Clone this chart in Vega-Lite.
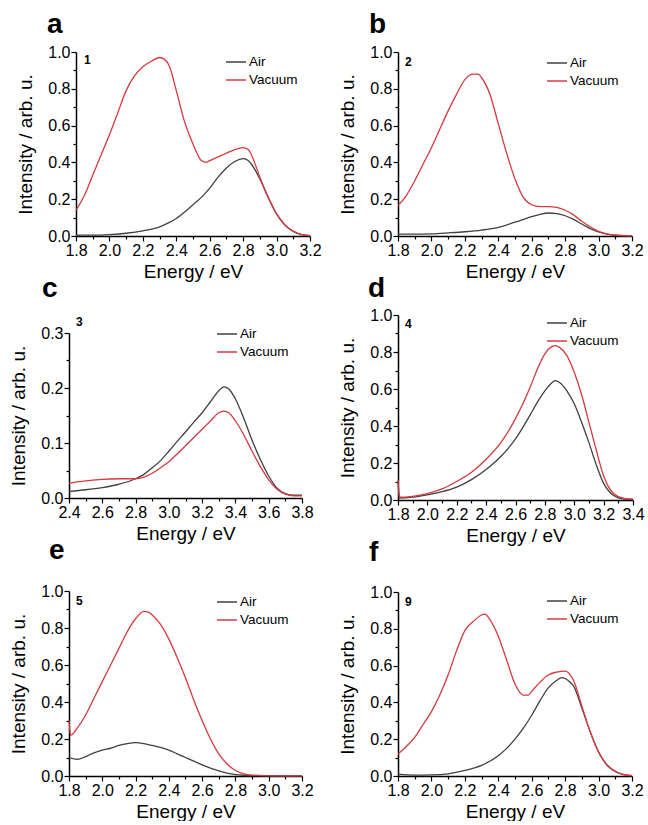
{
"$schema": "https://vega.github.io/schema/vega-lite/v6.json",
"padding": {"left": 9, "top": 11, "right": 5, "bottom": 0},
"config": {
  "font": "Liberation Sans",
  "view": {"stroke": null},
  "axis": {"grid": false, "domainColor": "#000", "domainWidth": 1.5, "tickColor": "#000", "tickWidth": 1.2, "labelFont": "Liberation Sans", "labelFontSize": 16, "labelColor": "#000", "labelPadding": 1, "labelOverlap": false, "labelFlush": false, "labelBound": false, "titleFont": "Liberation Sans", "titleFontSize": 19, "titleFontWeight": "normal", "titleColor": "#000"},
  "axisX": {"titlePadding": 4},
  "axisY": {"titlePadding": 12},
  "legend": {"title": null, "orient": "none", "symbolType": "stroke", "symbolSize": 400, "symbolStrokeWidth": 1.5, "labelFont": "Liberation Sans", "labelFontSize": 13.5, "labelColor": "#000", "labelOffset": 2, "rowPadding": -8, "padding": 0},
  "title": {"font": "Liberation Sans", "fontSize": 28, "fontWeight": "bold", "color": "#000", "anchor": "start", "frame": "group", "baseline": "alphabetic"}
},
"datasets": {
"nums": [
 {"p":"a","n":"1","e":1.8,"i":1.0},
 {"p":"b","n":"2","e":1.8,"i":1.0},
 {"p":"c","n":"3","e":2.4,"i":0.3},
 {"p":"d","n":"4","e":1.8,"i":1.0},
 {"p":"e","n":"5","e":1.8,"i":1.0},
 {"p":"f","n":"9","e":1.8,"i":1.0}
],
"spectra": [
{"p":"a","s":"Air","e":1.8,"i":0.005},{"p":"a","s":"Air","e":1.9,"i":0.005},{"p":"a","s":"Air","e":2.0,"i":0.008},{"p":"a","s":"Air","e":2.1,"i":0.015},{"p":"a","s":"Air","e":2.2,"i":0.028},{"p":"a","s":"Air","e":2.3,"i":0.05},{"p":"a","s":"Air","e":2.35,"i":0.07},{"p":"a","s":"Air","e":2.4,"i":0.095},{"p":"a","s":"Air","e":2.45,"i":0.13},{"p":"a","s":"Air","e":2.5,"i":0.17},{"p":"a","s":"Air","e":2.55,"i":0.21},{"p":"a","s":"Air","e":2.6,"i":0.26},{"p":"a","s":"Air","e":2.65,"i":0.32},{"p":"a","s":"Air","e":2.7,"i":0.37},{"p":"a","s":"Air","e":2.75,"i":0.405},{"p":"a","s":"Air","e":2.8,"i":0.42},{"p":"a","s":"Air","e":2.83,"i":0.41},{"p":"a","s":"Air","e":2.85,"i":0.39},{"p":"a","s":"Air","e":2.9,"i":0.31},{"p":"a","s":"Air","e":2.95,"i":0.21},{"p":"a","s":"Air","e":3.0,"i":0.12},{"p":"a","s":"Air","e":3.05,"i":0.06},{"p":"a","s":"Air","e":3.1,"i":0.025},{"p":"a","s":"Air","e":3.15,"i":0.008},{"p":"a","s":"Air","e":3.2,"i":0.002},
{"p":"a","s":"Vacuum","e":1.8,"i":0.14},{"p":"a","s":"Vacuum","e":1.85,"i":0.22},{"p":"a","s":"Vacuum","e":1.9,"i":0.33},{"p":"a","s":"Vacuum","e":1.95,"i":0.44},{"p":"a","s":"Vacuum","e":2.0,"i":0.55},{"p":"a","s":"Vacuum","e":2.05,"i":0.67},{"p":"a","s":"Vacuum","e":2.1,"i":0.79},{"p":"a","s":"Vacuum","e":2.15,"i":0.87},{"p":"a","s":"Vacuum","e":2.2,"i":0.92},{"p":"a","s":"Vacuum","e":2.25,"i":0.95},{"p":"a","s":"Vacuum","e":2.3,"i":0.97},{"p":"a","s":"Vacuum","e":2.33,"i":0.96},{"p":"a","s":"Vacuum","e":2.36,"i":0.92},{"p":"a","s":"Vacuum","e":2.4,"i":0.79},{"p":"a","s":"Vacuum","e":2.45,"i":0.62},{"p":"a","s":"Vacuum","e":2.5,"i":0.5},{"p":"a","s":"Vacuum","e":2.55,"i":0.41},{"p":"a","s":"Vacuum","e":2.58,"i":0.4},{"p":"a","s":"Vacuum","e":2.6,"i":0.41},{"p":"a","s":"Vacuum","e":2.65,"i":0.43},{"p":"a","s":"Vacuum","e":2.7,"i":0.45},{"p":"a","s":"Vacuum","e":2.75,"i":0.47},{"p":"a","s":"Vacuum","e":2.8,"i":0.48},{"p":"a","s":"Vacuum","e":2.83,"i":0.47},{"p":"a","s":"Vacuum","e":2.85,"i":0.44},{"p":"a","s":"Vacuum","e":2.9,"i":0.32},{"p":"a","s":"Vacuum","e":2.95,"i":0.21},{"p":"a","s":"Vacuum","e":3.0,"i":0.12},{"p":"a","s":"Vacuum","e":3.05,"i":0.06},{"p":"a","s":"Vacuum","e":3.1,"i":0.025},{"p":"a","s":"Vacuum","e":3.15,"i":0.008},{"p":"a","s":"Vacuum","e":3.2,"i":0.002},
{"p":"b","s":"Air","e":1.8,"i":0.01},{"p":"b","s":"Air","e":1.9,"i":0.01},{"p":"b","s":"Air","e":2.0,"i":0.012},{"p":"b","s":"Air","e":2.1,"i":0.017},{"p":"b","s":"Air","e":2.2,"i":0.023},{"p":"b","s":"Air","e":2.3,"i":0.032},{"p":"b","s":"Air","e":2.4,"i":0.047},{"p":"b","s":"Air","e":2.5,"i":0.075},{"p":"b","s":"Air","e":2.6,"i":0.105},{"p":"b","s":"Air","e":2.65,"i":0.118},{"p":"b","s":"Air","e":2.7,"i":0.125},{"p":"b","s":"Air","e":2.75,"i":0.122},{"p":"b","s":"Air","e":2.8,"i":0.11},{"p":"b","s":"Air","e":2.85,"i":0.09},{"p":"b","s":"Air","e":2.9,"i":0.065},{"p":"b","s":"Air","e":2.95,"i":0.04},{"p":"b","s":"Air","e":3.0,"i":0.022},{"p":"b","s":"Air","e":3.05,"i":0.01},{"p":"b","s":"Air","e":3.1,"i":0.004},{"p":"b","s":"Air","e":3.2,"i":0.001},
{"p":"b","s":"Vacuum","e":1.8,"i":0.165},{"p":"b","s":"Vacuum","e":1.85,"i":0.22},{"p":"b","s":"Vacuum","e":1.9,"i":0.3},{"p":"b","s":"Vacuum","e":1.95,"i":0.39},{"p":"b","s":"Vacuum","e":2.0,"i":0.48},{"p":"b","s":"Vacuum","e":2.05,"i":0.58},{"p":"b","s":"Vacuum","e":2.1,"i":0.68},{"p":"b","s":"Vacuum","e":2.15,"i":0.77},{"p":"b","s":"Vacuum","e":2.2,"i":0.85},{"p":"b","s":"Vacuum","e":2.25,"i":0.88},{"p":"b","s":"Vacuum","e":2.28,"i":0.88},{"p":"b","s":"Vacuum","e":2.3,"i":0.86},{"p":"b","s":"Vacuum","e":2.35,"i":0.77},{"p":"b","s":"Vacuum","e":2.4,"i":0.61},{"p":"b","s":"Vacuum","e":2.45,"i":0.45},{"p":"b","s":"Vacuum","e":2.5,"i":0.31},{"p":"b","s":"Vacuum","e":2.55,"i":0.21},{"p":"b","s":"Vacuum","e":2.6,"i":0.17},{"p":"b","s":"Vacuum","e":2.65,"i":0.16},{"p":"b","s":"Vacuum","e":2.7,"i":0.16},{"p":"b","s":"Vacuum","e":2.75,"i":0.155},{"p":"b","s":"Vacuum","e":2.8,"i":0.14},{"p":"b","s":"Vacuum","e":2.85,"i":0.115},{"p":"b","s":"Vacuum","e":2.9,"i":0.08},{"p":"b","s":"Vacuum","e":2.95,"i":0.05},{"p":"b","s":"Vacuum","e":3.0,"i":0.025},{"p":"b","s":"Vacuum","e":3.05,"i":0.012},{"p":"b","s":"Vacuum","e":3.1,"i":0.005},{"p":"b","s":"Vacuum","e":3.15,"i":0.002},{"p":"b","s":"Vacuum","e":3.2,"i":0.001},
{"p":"c","s":"Air","e":2.4,"i":0.012},{"p":"c","s":"Air","e":2.5,"i":0.015},{"p":"c","s":"Air","e":2.6,"i":0.019},{"p":"c","s":"Air","e":2.7,"i":0.025},{"p":"c","s":"Air","e":2.8,"i":0.035},{"p":"c","s":"Air","e":2.85,"i":0.043},{"p":"c","s":"Air","e":2.9,"i":0.055},{"p":"c","s":"Air","e":2.95,"i":0.068},{"p":"c","s":"Air","e":3.0,"i":0.085},{"p":"c","s":"Air","e":3.05,"i":0.103},{"p":"c","s":"Air","e":3.1,"i":0.12},{"p":"c","s":"Air","e":3.15,"i":0.138},{"p":"c","s":"Air","e":3.2,"i":0.155},{"p":"c","s":"Air","e":3.25,"i":0.175},{"p":"c","s":"Air","e":3.3,"i":0.195},{"p":"c","s":"Air","e":3.33,"i":0.202},{"p":"c","s":"Air","e":3.36,"i":0.198},{"p":"c","s":"Air","e":3.4,"i":0.18},{"p":"c","s":"Air","e":3.45,"i":0.145},{"p":"c","s":"Air","e":3.5,"i":0.105},{"p":"c","s":"Air","e":3.55,"i":0.07},{"p":"c","s":"Air","e":3.6,"i":0.04},{"p":"c","s":"Air","e":3.65,"i":0.018},{"p":"c","s":"Air","e":3.7,"i":0.008},{"p":"c","s":"Air","e":3.75,"i":0.005},{"p":"c","s":"Air","e":3.8,"i":0.005},
{"p":"c","s":"Vacuum","e":2.4,"i":0.027},{"p":"c","s":"Vacuum","e":2.5,"i":0.031},{"p":"c","s":"Vacuum","e":2.6,"i":0.034},{"p":"c","s":"Vacuum","e":2.7,"i":0.035},{"p":"c","s":"Vacuum","e":2.8,"i":0.035},{"p":"c","s":"Vacuum","e":2.85,"i":0.038},{"p":"c","s":"Vacuum","e":2.9,"i":0.045},{"p":"c","s":"Vacuum","e":2.95,"i":0.055},{"p":"c","s":"Vacuum","e":3.0,"i":0.066},{"p":"c","s":"Vacuum","e":3.05,"i":0.08},{"p":"c","s":"Vacuum","e":3.1,"i":0.095},{"p":"c","s":"Vacuum","e":3.15,"i":0.11},{"p":"c","s":"Vacuum","e":3.2,"i":0.125},{"p":"c","s":"Vacuum","e":3.25,"i":0.14},{"p":"c","s":"Vacuum","e":3.3,"i":0.155},{"p":"c","s":"Vacuum","e":3.33,"i":0.158},{"p":"c","s":"Vacuum","e":3.36,"i":0.155},{"p":"c","s":"Vacuum","e":3.4,"i":0.14},{"p":"c","s":"Vacuum","e":3.45,"i":0.115},{"p":"c","s":"Vacuum","e":3.5,"i":0.085},{"p":"c","s":"Vacuum","e":3.55,"i":0.057},{"p":"c","s":"Vacuum","e":3.6,"i":0.033},{"p":"c","s":"Vacuum","e":3.65,"i":0.016},{"p":"c","s":"Vacuum","e":3.7,"i":0.007},{"p":"c","s":"Vacuum","e":3.75,"i":0.004},{"p":"c","s":"Vacuum","e":3.8,"i":0.004},
{"p":"d","s":"Air","e":1.8,"i":0.1},{"p":"d","s":"Air","e":1.81,"i":0.01},{"p":"d","s":"Air","e":1.9,"i":0.015},{"p":"d","s":"Air","e":2.0,"i":0.028},{"p":"d","s":"Air","e":2.1,"i":0.045},{"p":"d","s":"Air","e":2.2,"i":0.07},{"p":"d","s":"Air","e":2.3,"i":0.11},{"p":"d","s":"Air","e":2.4,"i":0.165},{"p":"d","s":"Air","e":2.5,"i":0.235},{"p":"d","s":"Air","e":2.6,"i":0.33},{"p":"d","s":"Air","e":2.7,"i":0.46},{"p":"d","s":"Air","e":2.75,"i":0.53},{"p":"d","s":"Air","e":2.8,"i":0.59},{"p":"d","s":"Air","e":2.85,"i":0.635},{"p":"d","s":"Air","e":2.87,"i":0.645},{"p":"d","s":"Air","e":2.9,"i":0.635},{"p":"d","s":"Air","e":2.95,"i":0.59},{"p":"d","s":"Air","e":3.0,"i":0.52},{"p":"d","s":"Air","e":3.05,"i":0.42},{"p":"d","s":"Air","e":3.1,"i":0.31},{"p":"d","s":"Air","e":3.15,"i":0.19},{"p":"d","s":"Air","e":3.2,"i":0.09},{"p":"d","s":"Air","e":3.25,"i":0.035},{"p":"d","s":"Air","e":3.3,"i":0.012},{"p":"d","s":"Air","e":3.35,"i":0.005},{"p":"d","s":"Air","e":3.4,"i":0.003},
{"p":"d","s":"Vacuum","e":1.8,"i":0.11},{"p":"d","s":"Vacuum","e":1.81,"i":0.015},{"p":"d","s":"Vacuum","e":1.9,"i":0.02},{"p":"d","s":"Vacuum","e":2.0,"i":0.035},{"p":"d","s":"Vacuum","e":2.1,"i":0.06},{"p":"d","s":"Vacuum","e":2.2,"i":0.1},{"p":"d","s":"Vacuum","e":2.3,"i":0.15},{"p":"d","s":"Vacuum","e":2.4,"i":0.22},{"p":"d","s":"Vacuum","e":2.5,"i":0.31},{"p":"d","s":"Vacuum","e":2.6,"i":0.44},{"p":"d","s":"Vacuum","e":2.7,"i":0.61},{"p":"d","s":"Vacuum","e":2.75,"i":0.71},{"p":"d","s":"Vacuum","e":2.8,"i":0.79},{"p":"d","s":"Vacuum","e":2.85,"i":0.83},{"p":"d","s":"Vacuum","e":2.87,"i":0.835},{"p":"d","s":"Vacuum","e":2.9,"i":0.825},{"p":"d","s":"Vacuum","e":2.95,"i":0.78},{"p":"d","s":"Vacuum","e":3.0,"i":0.69},{"p":"d","s":"Vacuum","e":3.05,"i":0.57},{"p":"d","s":"Vacuum","e":3.1,"i":0.42},{"p":"d","s":"Vacuum","e":3.15,"i":0.27},{"p":"d","s":"Vacuum","e":3.2,"i":0.13},{"p":"d","s":"Vacuum","e":3.25,"i":0.05},{"p":"d","s":"Vacuum","e":3.3,"i":0.018},{"p":"d","s":"Vacuum","e":3.35,"i":0.007},{"p":"d","s":"Vacuum","e":3.4,"i":0.004},
{"p":"e","s":"Air","e":1.8,"i":0.1},{"p":"e","s":"Air","e":1.85,"i":0.09},{"p":"e","s":"Air","e":1.9,"i":0.105},{"p":"e","s":"Air","e":1.95,"i":0.125},{"p":"e","s":"Air","e":2.0,"i":0.14},{"p":"e","s":"Air","e":2.05,"i":0.15},{"p":"e","s":"Air","e":2.1,"i":0.165},{"p":"e","s":"Air","e":2.15,"i":0.175},{"p":"e","s":"Air","e":2.2,"i":0.18},{"p":"e","s":"Air","e":2.25,"i":0.175},{"p":"e","s":"Air","e":2.3,"i":0.165},{"p":"e","s":"Air","e":2.35,"i":0.155},{"p":"e","s":"Air","e":2.4,"i":0.14},{"p":"e","s":"Air","e":2.45,"i":0.12},{"p":"e","s":"Air","e":2.5,"i":0.1},{"p":"e","s":"Air","e":2.55,"i":0.08},{"p":"e","s":"Air","e":2.6,"i":0.06},{"p":"e","s":"Air","e":2.65,"i":0.043},{"p":"e","s":"Air","e":2.7,"i":0.028},{"p":"e","s":"Air","e":2.75,"i":0.016},{"p":"e","s":"Air","e":2.8,"i":0.008},{"p":"e","s":"Air","e":2.85,"i":0.004},{"p":"e","s":"Air","e":2.9,"i":0.002},{"p":"e","s":"Air","e":3.0,"i":0.001},{"p":"e","s":"Air","e":3.2,"i":0.001},
{"p":"e","s":"Vacuum","e":1.8,"i":0.3},{"p":"e","s":"Vacuum","e":1.81,"i":0.22},{"p":"e","s":"Vacuum","e":1.85,"i":0.26},{"p":"e","s":"Vacuum","e":1.9,"i":0.33},{"p":"e","s":"Vacuum","e":1.95,"i":0.42},{"p":"e","s":"Vacuum","e":2.0,"i":0.51},{"p":"e","s":"Vacuum","e":2.05,"i":0.6},{"p":"e","s":"Vacuum","e":2.1,"i":0.69},{"p":"e","s":"Vacuum","e":2.15,"i":0.78},{"p":"e","s":"Vacuum","e":2.2,"i":0.85},{"p":"e","s":"Vacuum","e":2.25,"i":0.89},{"p":"e","s":"Vacuum","e":2.28,"i":0.885},{"p":"e","s":"Vacuum","e":2.3,"i":0.87},{"p":"e","s":"Vacuum","e":2.35,"i":0.82},{"p":"e","s":"Vacuum","e":2.4,"i":0.74},{"p":"e","s":"Vacuum","e":2.45,"i":0.64},{"p":"e","s":"Vacuum","e":2.5,"i":0.53},{"p":"e","s":"Vacuum","e":2.55,"i":0.41},{"p":"e","s":"Vacuum","e":2.6,"i":0.3},{"p":"e","s":"Vacuum","e":2.65,"i":0.2},{"p":"e","s":"Vacuum","e":2.7,"i":0.12},{"p":"e","s":"Vacuum","e":2.75,"i":0.065},{"p":"e","s":"Vacuum","e":2.8,"i":0.03},{"p":"e","s":"Vacuum","e":2.85,"i":0.012},{"p":"e","s":"Vacuum","e":2.9,"i":0.005},{"p":"e","s":"Vacuum","e":3.0,"i":0.002},{"p":"e","s":"Vacuum","e":3.1,"i":0.001},{"p":"e","s":"Vacuum","e":3.2,"i":0.001},
{"p":"f","s":"Air","e":1.8,"i":0.01},{"p":"f","s":"Air","e":1.9,"i":0.005},{"p":"f","s":"Air","e":2.0,"i":0.006},{"p":"f","s":"Air","e":2.1,"i":0.012},{"p":"f","s":"Air","e":2.2,"i":0.03},{"p":"f","s":"Air","e":2.3,"i":0.058},{"p":"f","s":"Air","e":2.4,"i":0.11},{"p":"f","s":"Air","e":2.45,"i":0.15},{"p":"f","s":"Air","e":2.5,"i":0.2},{"p":"f","s":"Air","e":2.55,"i":0.26},{"p":"f","s":"Air","e":2.6,"i":0.33},{"p":"f","s":"Air","e":2.65,"i":0.41},{"p":"f","s":"Air","e":2.7,"i":0.48},{"p":"f","s":"Air","e":2.75,"i":0.52},{"p":"f","s":"Air","e":2.78,"i":0.535},{"p":"f","s":"Air","e":2.8,"i":0.53},{"p":"f","s":"Air","e":2.83,"i":0.51},{"p":"f","s":"Air","e":2.85,"i":0.49},{"p":"f","s":"Air","e":2.9,"i":0.37},{"p":"f","s":"Air","e":2.95,"i":0.24},{"p":"f","s":"Air","e":3.0,"i":0.13},{"p":"f","s":"Air","e":3.05,"i":0.06},{"p":"f","s":"Air","e":3.1,"i":0.025},{"p":"f","s":"Air","e":3.15,"i":0.008},{"p":"f","s":"Air","e":3.2,"i":0.002},
{"p":"f","s":"Vacuum","e":1.8,"i":0.12},{"p":"f","s":"Vacuum","e":1.85,"i":0.16},{"p":"f","s":"Vacuum","e":1.9,"i":0.21},{"p":"f","s":"Vacuum","e":1.95,"i":0.28},{"p":"f","s":"Vacuum","e":2.0,"i":0.35},{"p":"f","s":"Vacuum","e":2.05,"i":0.44},{"p":"f","s":"Vacuum","e":2.1,"i":0.55},{"p":"f","s":"Vacuum","e":2.15,"i":0.68},{"p":"f","s":"Vacuum","e":2.2,"i":0.79},{"p":"f","s":"Vacuum","e":2.25,"i":0.84},{"p":"f","s":"Vacuum","e":2.3,"i":0.875},{"p":"f","s":"Vacuum","e":2.32,"i":0.88},{"p":"f","s":"Vacuum","e":2.35,"i":0.85},{"p":"f","s":"Vacuum","e":2.4,"i":0.76},{"p":"f","s":"Vacuum","e":2.45,"i":0.63},{"p":"f","s":"Vacuum","e":2.5,"i":0.5},{"p":"f","s":"Vacuum","e":2.55,"i":0.44},{"p":"f","s":"Vacuum","e":2.58,"i":0.44},{"p":"f","s":"Vacuum","e":2.6,"i":0.46},{"p":"f","s":"Vacuum","e":2.65,"i":0.51},{"p":"f","s":"Vacuum","e":2.7,"i":0.55},{"p":"f","s":"Vacuum","e":2.75,"i":0.565},{"p":"f","s":"Vacuum","e":2.8,"i":0.57},{"p":"f","s":"Vacuum","e":2.83,"i":0.55},{"p":"f","s":"Vacuum","e":2.85,"i":0.52},{"p":"f","s":"Vacuum","e":2.9,"i":0.38},{"p":"f","s":"Vacuum","e":2.95,"i":0.24},{"p":"f","s":"Vacuum","e":3.0,"i":0.13},{"p":"f","s":"Vacuum","e":3.05,"i":0.06},{"p":"f","s":"Vacuum","e":3.1,"i":0.025},{"p":"f","s":"Vacuum","e":3.15,"i":0.008},{"p":"f","s":"Vacuum","e":3.2,"i":0.002}
]
},
"resolve": {"scale": {"color": "independent"}, "legend": {"color": "independent"}},
"spacing": 16,
"hconcat": [
{
 "spacing": -6,
 "resolve": {"scale": {"color": "independent"}, "legend": {"color": "independent"}},
 "vconcat": [
 {
  "spacing": -54,
  "resolve": {"scale": {"color": "independent"}, "legend": {"color": "independent"}},
  "hconcat": [
  {"width": 1, "height": 1, "data": {"values": []}, "mark": {"type": "point"}, "encoding": {}},
  {
  "width": 234, "height": 184,
  "title": {"text": "a", "dx": -29, "offset": 5},
  "layer": [
   {"data": {"name": "spectra"}, "transform": [{"filter": "datum.p == 'a'"}],
    "mark": {"type": "line", "strokeWidth": 1.3, "interpolate": "monotone"},
    "encoding": {
     "x": {"field": "e", "type": "quantitative", "scale": {"domain": [1.8, 3.2], "nice": false, "zero": false},
       "axis": {"title": "Energy / eV", "tickCount": 100, "labelOverlap": false, "values": [1.8,1.9,2.0,2.1,2.2,2.3,2.4,2.5,2.6,2.7,2.8,2.9,3.0,3.1,3.2], "labelExpr": "round(datum.value*10)%2==0 ? format(datum.value,'.1f') : ''", "tickSize": {"condition": {"test": "round(datum.value*10)%2==0", "value": 5}, "value": 3}}},
     "y": {"field": "i", "type": "quantitative", "scale": {"domain": [0, 1], "nice": false},
       "axis": {"title": "Intensity / arb. u.", "tickCount": 100, "labelOverlap": false, "values": [0,0.1,0.2,0.3,0.4,0.5,0.6,0.7,0.8,0.9,1.0], "labelExpr": "round(datum.value*10)%2==0 ? format(datum.value,'.1f') : ''", "tickSize": {"condition": {"test": "round(datum.value*10)%2==0", "value": 5}, "value": 3}}},
     "color": {"field": "s", "type": "nominal", "scale": {"domain": ["Air", "Vacuum"], "range": ["#404040", "#d4393f"]}, "legend": {"legendX": 149, "legendY": -1}}
    }},
   {"data": {"name": "nums"}, "transform": [{"filter": "datum.p == 'a'"}],
    "mark": {"type": "text", "align": "left", "baseline": "top", "dx": 8, "dy": 3, "fontSize": 12, "fontWeight": "bold", "color": "#000"},
    "encoding": {"x": {"field": "e", "type": "quantitative"}, "y": {"field": "i", "type": "quantitative"}, "text": {"field": "n"}}}
  ]
  }
  ]
 },
 {
  "width": 233, "height": 165,
  "title": {"text": "c", "dx": -27, "offset": 13},
  "layer": [
   {"data": {"name": "spectra"}, "transform": [{"filter": "datum.p == 'c'"}],
    "mark": {"type": "line", "strokeWidth": 1.3, "interpolate": "monotone"},
    "encoding": {
     "x": {"field": "e", "type": "quantitative", "scale": {"domain": [2.4, 3.8], "nice": false, "zero": false},
       "axis": {"title": "Energy / eV", "tickCount": 100, "labelOverlap": false, "values": [2.4,2.5,2.6,2.7,2.8,2.9,3.0,3.1,3.2,3.3,3.4,3.5,3.6,3.7,3.8], "labelExpr": "round(datum.value*10)%2==0 ? format(datum.value,'.1f') : ''", "tickSize": {"condition": {"test": "round(datum.value*10)%2==0", "value": 5}, "value": 3}}},
     "y": {"field": "i", "type": "quantitative", "scale": {"domain": [0, 0.3], "nice": false},
       "axis": {"title": "Intensity / arb. u.", "tickCount": 100, "labelOverlap": false, "values": [0,0.05,0.1,0.15,0.2,0.25,0.3], "labelExpr": "round(datum.value*20)%2==0 ? format(datum.value,'.1f') : ''", "tickSize": {"condition": {"test": "round(datum.value*20)%2==0", "value": 5}, "value": 3}}},
     "color": {"field": "s", "type": "nominal", "scale": {"domain": ["Air", "Vacuum"], "range": ["#404040", "#d4393f"]}, "legend": {"legendX": 147, "legendY": -10}}
    }},
   {"data": {"name": "nums"}, "transform": [{"filter": "datum.p == 'c'"}],
    "mark": {"type": "text", "align": "left", "baseline": "top", "dx": 7, "dy": -16, "fontSize": 12, "fontWeight": "bold", "color": "#000"},
    "encoding": {"x": {"field": "e", "type": "quantitative"}, "y": {"field": "i", "type": "quantitative"}, "text": {"field": "n"}}}
  ]
 },
 {
  "width": 233, "height": 185,
  "title": {"text": "e", "dx": -20, "offset": 18},
  "layer": [
   {"data": {"name": "spectra"}, "transform": [{"filter": "datum.p == 'e'"}],
    "mark": {"type": "line", "strokeWidth": 1.3, "interpolate": "monotone"},
    "encoding": {
     "x": {"field": "e", "type": "quantitative", "scale": {"domain": [1.8, 3.2], "nice": false, "zero": false},
       "axis": {"title": "Energy / eV", "tickCount": 100, "labelOverlap": false, "values": [1.8,1.9,2.0,2.1,2.2,2.3,2.4,2.5,2.6,2.7,2.8,2.9,3.0,3.1,3.2], "labelExpr": "round(datum.value*10)%2==0 ? format(datum.value,'.1f') : ''", "tickSize": {"condition": {"test": "round(datum.value*10)%2==0", "value": 5}, "value": 3}}},
     "y": {"field": "i", "type": "quantitative", "scale": {"domain": [0, 1], "nice": false},
       "axis": {"title": "Intensity / arb. u.", "tickCount": 100, "labelOverlap": false, "values": [0,0.1,0.2,0.3,0.4,0.5,0.6,0.7,0.8,0.9,1.0], "labelExpr": "round(datum.value*10)%2==0 ? format(datum.value,'.1f') : ''", "tickSize": {"condition": {"test": "round(datum.value*10)%2==0", "value": 5}, "value": 3}}},
     "color": {"field": "s", "type": "nominal", "scale": {"domain": ["Air", "Vacuum"], "range": ["#404040", "#d4393f"]}, "legend": {"legendX": 147, "legendY": 0}}
    }},
   {"data": {"name": "nums"}, "transform": [{"filter": "datum.p == 'e'"}],
    "mark": {"type": "text", "align": "left", "baseline": "top", "dx": 7, "dy": 5, "fontSize": 12, "fontWeight": "bold", "color": "#000"},
    "encoding": {"x": {"field": "e", "type": "quantitative"}, "y": {"field": "i", "type": "quantitative"}, "text": {"field": "n"}}}
  ]
 }
 ]
},
{
 "spacing": -6,
 "resolve": {"scale": {"color": "independent"}, "legend": {"color": "independent"}},
 "vconcat": [
 {
  "width": 234, "height": 184,
  "title": {"text": "b", "dx": -29, "offset": 5},
  "layer": [
   {"data": {"name": "spectra"}, "transform": [{"filter": "datum.p == 'b'"}],
    "mark": {"type": "line", "strokeWidth": 1.3, "interpolate": "monotone"},
    "encoding": {
     "x": {"field": "e", "type": "quantitative", "scale": {"domain": [1.8, 3.2], "nice": false, "zero": false},
       "axis": {"title": "Energy / eV", "tickCount": 100, "labelOverlap": false, "values": [1.8,1.9,2.0,2.1,2.2,2.3,2.4,2.5,2.6,2.7,2.8,2.9,3.0,3.1,3.2], "labelExpr": "round(datum.value*10)%2==0 ? format(datum.value,'.1f') : ''", "tickSize": {"condition": {"test": "round(datum.value*10)%2==0", "value": 5}, "value": 3}}},
     "y": {"field": "i", "type": "quantitative", "scale": {"domain": [0, 1], "nice": false},
       "axis": {"title": "Intensity / arb. u.", "tickCount": 100, "labelOverlap": false, "values": [0,0.1,0.2,0.3,0.4,0.5,0.6,0.7,0.8,0.9,1.0], "labelExpr": "round(datum.value*10)%2==0 ? format(datum.value,'.1f') : ''", "tickSize": {"condition": {"test": "round(datum.value*10)%2==0", "value": 5}, "value": 3}}},
     "color": {"field": "s", "type": "nominal", "scale": {"domain": ["Air", "Vacuum"], "range": ["#404040", "#d4393f"]}, "legend": {"legendX": 148, "legendY": 0}}
    }},
   {"data": {"name": "nums"}, "transform": [{"filter": "datum.p == 'b'"}],
    "mark": {"type": "text", "align": "left", "baseline": "top", "dx": 7, "dy": 5, "fontSize": 12, "fontWeight": "bold", "color": "#000"},
    "encoding": {"x": {"field": "e", "type": "quantitative"}, "y": {"field": "i", "type": "quantitative"}, "text": {"field": "n"}}}
  ]
 },
 {
  "width": 235, "height": 185,
  "title": {"text": "d", "dx": -30, "offset": 4},
  "layer": [
   {"data": {"name": "spectra"}, "transform": [{"filter": "datum.p == 'd'"}],
    "mark": {"type": "line", "strokeWidth": 1.3, "interpolate": "monotone"},
    "encoding": {
     "x": {"field": "e", "type": "quantitative", "scale": {"domain": [1.8, 3.4], "nice": false, "zero": false},
       "axis": {"title": "Energy / eV", "tickCount": 100, "labelOverlap": false, "values": [1.8,1.9,2.0,2.1,2.2,2.3,2.4,2.5,2.6,2.7,2.8,2.9,3.0,3.1,3.2,3.3,3.4], "labelExpr": "round(datum.value*10)%2==0 ? format(datum.value,'.1f') : ''", "tickSize": {"condition": {"test": "round(datum.value*10)%2==0", "value": 5}, "value": 3}}},
     "y": {"field": "i", "type": "quantitative", "scale": {"domain": [0, 1], "nice": false},
       "axis": {"title": "Intensity / arb. u.", "tickCount": 100, "labelOverlap": false, "values": [0,0.1,0.2,0.3,0.4,0.5,0.6,0.7,0.8,0.9,1.0], "labelExpr": "round(datum.value*10)%2==0 ? format(datum.value,'.1f') : ''", "tickSize": {"condition": {"test": "round(datum.value*10)%2==0", "value": 5}, "value": 3}}},
     "color": {"field": "s", "type": "nominal", "scale": {"domain": ["Air", "Vacuum"], "range": ["#404040", "#d4393f"]}, "legend": {"legendX": 148, "legendY": -3}}
    }},
   {"data": {"name": "nums"}, "transform": [{"filter": "datum.p == 'd'"}],
    "mark": {"type": "text", "align": "left", "baseline": "top", "dx": 7, "dy": 4, "fontSize": 12, "fontWeight": "bold", "color": "#000"},
    "encoding": {"x": {"field": "e", "type": "quantitative"}, "y": {"field": "i", "type": "quantitative"}, "text": {"field": "n"}}}
  ]
 },
 {
  "width": 234, "height": 184,
  "title": {"text": "f", "dx": -29, "offset": 17},
  "layer": [
   {"data": {"name": "spectra"}, "transform": [{"filter": "datum.p == 'f'"}],
    "mark": {"type": "line", "strokeWidth": 1.3, "interpolate": "monotone"},
    "encoding": {
     "x": {"field": "e", "type": "quantitative", "scale": {"domain": [1.8, 3.2], "nice": false, "zero": false},
       "axis": {"title": "Energy / eV", "tickCount": 100, "labelOverlap": false, "values": [1.8,1.9,2.0,2.1,2.2,2.3,2.4,2.5,2.6,2.7,2.8,2.9,3.0,3.1,3.2], "labelExpr": "round(datum.value*10)%2==0 ? format(datum.value,'.1f') : ''", "tickSize": {"condition": {"test": "round(datum.value*10)%2==0", "value": 5}, "value": 3}}},
     "y": {"field": "i", "type": "quantitative", "scale": {"domain": [0, 1], "nice": false},
       "axis": {"title": "Intensity / arb. u.", "tickCount": 100, "labelOverlap": false, "values": [0,0.1,0.2,0.3,0.4,0.5,0.6,0.7,0.8,0.9,1.0], "labelExpr": "round(datum.value*10)%2==0 ? format(datum.value,'.1f') : ''", "tickSize": {"condition": {"test": "round(datum.value*10)%2==0", "value": 5}, "value": 3}}},
     "color": {"field": "s", "type": "nominal", "scale": {"domain": ["Air", "Vacuum"], "range": ["#404040", "#d4393f"]}, "legend": {"legendX": 148, "legendY": -2}}
    }},
   {"data": {"name": "nums"}, "transform": [{"filter": "datum.p == 'f'"}],
    "mark": {"type": "text", "align": "left", "baseline": "top", "dx": 7, "dy": 5, "fontSize": 12, "fontWeight": "bold", "color": "#000"},
    "encoding": {"x": {"field": "e", "type": "quantitative"}, "y": {"field": "i", "type": "quantitative"}, "text": {"field": "n"}}}
  ]
 }
 ]
}
]
}
